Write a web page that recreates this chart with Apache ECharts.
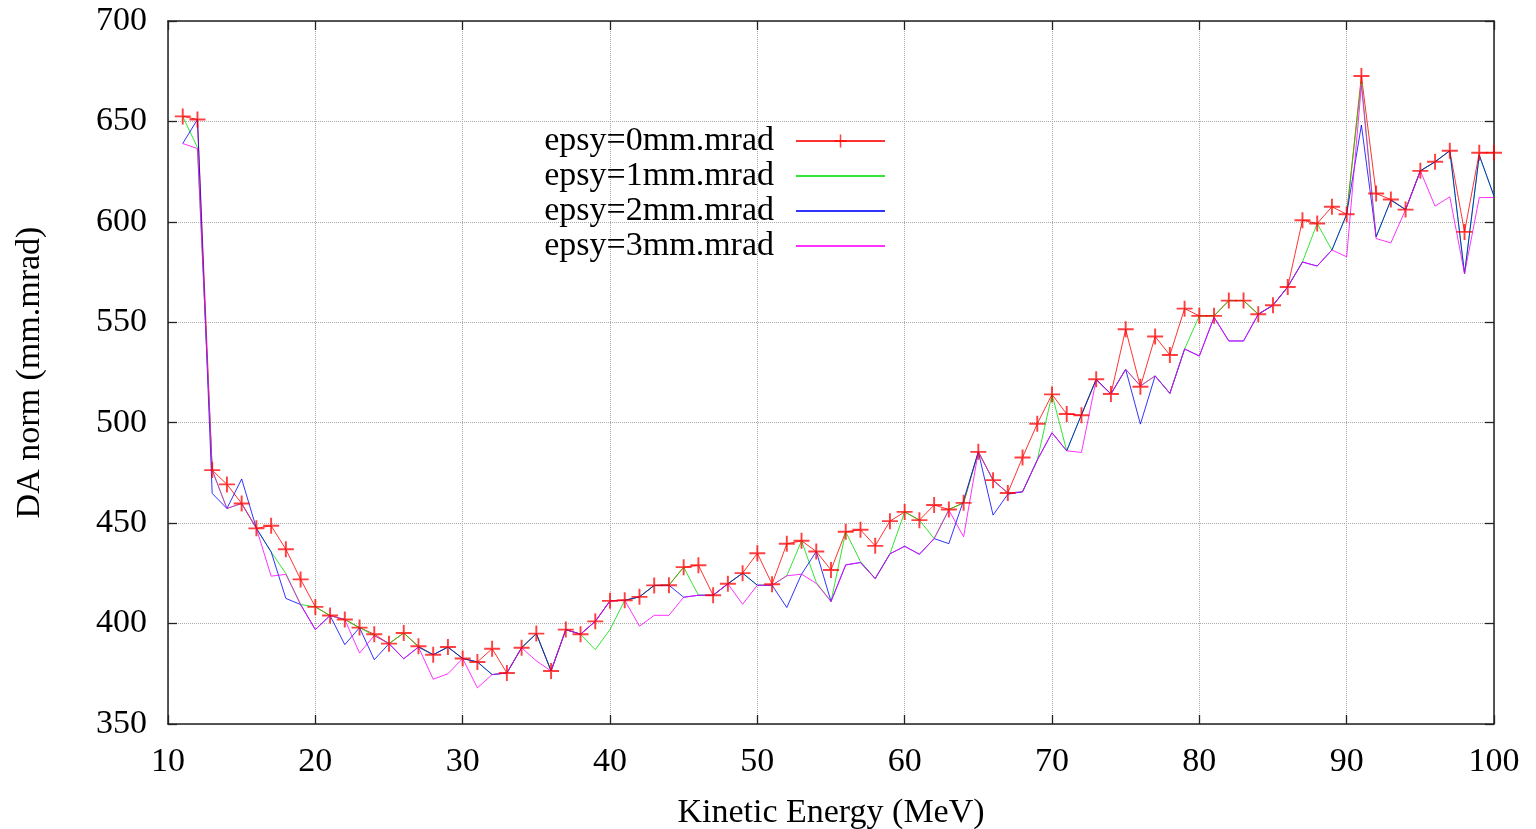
<!DOCTYPE html>
<html>
<head>
<meta charset="utf-8">
<script src="https://cdn.jsdelivr.net/npm/echarts@6/dist/echarts.min.js"></script>
<style>
html,body{margin:0;padding:0;background:#fff;}
#chart{width:1536px;height:829px;}
</style>
</head>
<body>
<div id="chart"></div>
<script>
const energy = [11,12,13,14,15,16,17,18,19,20,21,22,23,24,25,26,27,28,29,30,31,32,33,34,35,36,37,38,39,40,41,42,43,44,45,46,47,48,49,50,51,52,53,54,55,56,57,58,59,60,61,62,63,64,65,66,67,68,69,70,71,72,73,74,75,76,77,78,79,80,81,82,83,84,85,86,87,88,89,90,91,92,93,94,95,96,97,98,99,100];

const epsy0 = [652.5,651,476.4,469.3,459.8,447.4,448.7,437,422,408.3,404,402,398,394.7,390,395.3,388.7,384.5,388.3,382.6,380.9,387.5,375.4,388,395,376.4,397,394.7,401.1,411.3,411.6,413.3,419,419.1,428.1,429,414.1,419.8,425.1,435,419.6,439.7,441.2,435.9,426.7,445.7,446.7,438.7,451,455.6,451.5,459,456.8,460.1,485.5,471.4,465,482.7,499.5,514.1,504.3,503.7,521.6,514.3,546.5,517.9,542.9,533.7,556.8,553.2,553.2,560.8,560.8,554,558.5,567.6,600.8,599.2,607.5,603.8,672.6,614.1,611.1,606.1,625.4,629.9,635.4,595,634.4,634.4];

const epsy1 = [652.5,637,476.4,457.3,459.8,447.4,435.7,424.9,409.5,408.3,404,402,398,394,390,395.3,388.3,384.5,388.3,382.6,380.9,374.6,375.4,388,395,376.4,397,394.7,387,397,411.6,413.3,419,419.1,428.1,414.1,414.1,419.8,425.1,419.1,419.1,423.8,441.2,420.5,411,445.7,430.9,422.4,434.7,455.6,451.5,442.3,456.8,460.1,485.5,471.4,465,465.6,481.4,514.1,486,504,521.6,514.3,526.6,518.3,523.3,514.6,536.7,553.2,553.2,560.8,560.8,554,558.5,567.6,580,599.2,585.9,603.8,670,592.5,610.8,606.1,625.4,629.9,635.4,574.2,633.2,612.8];

const epsy2 = [639,651,464.8,457.3,472,447.4,435.7,412.5,409.5,397,404,389.5,398,382,390,382.5,388.3,384.5,388.3,382.6,380.9,374.6,375.4,388,395,376.4,397,394.7,401.1,411.3,411.6,413.3,419,419.1,413.1,414.1,414.1,419.8,425.1,419.1,419.1,408,424.6,435.9,411,429.2,430.4,422.4,434.7,438.5,434.5,442.3,439.8,461.4,485.5,454,464.4,465.6,481.4,495,486,504,521.6,514.3,526.6,499.3,523.3,514.6,536.7,533.2,552.5,540.7,540.7,554,558.5,567.6,580,578,586,603.8,648.2,592.5,610.8,606.1,625.4,629.9,635.4,574.2,633.2,612.8];

const epsy3 = [639,636.5,476.4,457.3,459.8,447.4,423.6,424.5,409.5,397,404,402,385.3,394,390,382.5,388.3,372.3,375,382.6,368,374.6,375.4,388,381.4,376.4,397,394.7,401.1,411.3,411.6,398.7,404.1,404.1,413.1,414.1,414.1,419.8,409.6,419.1,419.1,423.8,424.6,420,411,429.2,430.4,422.4,434.7,438.5,434.5,442.3,456.5,443.2,485.5,471.4,465,465.6,481.4,495,486,485.2,521.3,514.3,526.6,518.3,523.3,514.6,536.7,533.2,552.5,540.7,540.7,554,558.5,567.6,580,578,586,582.6,668,591.7,589.5,606.1,625.4,607.8,612.5,574.2,612.1,612.1];

const seriesNames = ['epsy=0mm.mrad','epsy=1mm.mrad','epsy=2mm.mrad','epsy=3mm.mrad'];
const seriesColors = ['#ff0000','#00e000','#0000ff','#ff00ff'];
const seriesValues = [epsy0, epsy1, epsy2, epsy3];

const FONT = 'Liberation Serif';
const FS = 34;
const plusPath = 'path://M0,4.4H10V5.6H0ZM4.4,0H5.6V10H4.4Z';

const chart = echarts.init(document.getElementById('chart'));

function pairs(vals){ return energy.map((e,i)=>[e, vals[i]]); }

const series = seriesValues.map((vals, k) => ({
  name: seriesNames[k],
  type: 'line',
  data: pairs(vals),
  xAxisIndex: 0,
  yAxisIndex: 0,
  symbol: k === 0 ? plusPath : 'none',
  symbolSize: 16,
  showSymbol: k === 0,
  showAllSymbol: true,
  itemStyle: { color: seriesColors[k], opacity: k === 0 ? 0.75 : 1 },
  lineStyle: { color: seriesColors[k], width: 1, opacity: 0.8 },
  emphasis: { disabled: true },
  animation: false
}));

const legendData = seriesNames.map((n, k) => (
  k === 0 ? { name: n } : { name: n, itemStyle: { opacity: 0 } }
));

const tickStyle = { show: true, inside: true, length: 9, lineStyle: { color: '#222', width: 1.3 } };
const axisLineStyle = { show: true, lineStyle: { color: '#222', width: 1.5 } };

chart.setOption({
  backgroundColor: '#ffffff',
  animation: false,
  grid: { left: 168, right: 42, top: 21, bottom: 105, show: false, containLabel: false, outerBoundsMode: 'none' },
  legend: {
    orient: 'vertical',
    right: 645,
    top: 119,
    align: 'right',
    itemWidth: 89,
    itemHeight: 16,
    itemGap: 1,
    data: legendData,
    textStyle: { fontFamily: FONT, fontSize: FS, color: '#000', padding: [0, 17, 0, 0] },
    selectedMode: false
  },
  xAxis: [
    {
      type: 'value', min: 10, max: 100, interval: 10, position: 'bottom',
      name: 'Kinetic Energy (MeV)', nameLocation: 'middle', nameGap: 72,
      nameTextStyle: { fontFamily: FONT, fontSize: FS, color: '#000' },
      axisLine: axisLineStyle, axisTick: tickStyle,
      axisLabel: { fontFamily: FONT, fontSize: FS, color: '#000', margin: 21 },
      splitLine: { show: true, lineStyle: { type: 'dotted', color: '#aaaaaa', width: 1 } }
    },
    {
      type: 'value', min: 10, max: 100, interval: 10, position: 'top',
      axisLine: axisLineStyle, axisTick: tickStyle,
      axisLabel: { show: false }, splitLine: { show: false }
    }
  ],
  yAxis: [
    {
      type: 'value', min: 350, max: 700, interval: 50, position: 'left',
      name: 'DA norm (mm.mrad)', nameLocation: 'middle', nameGap: 121,
      nameTextStyle: { fontFamily: FONT, fontSize: FS, color: '#000' },
      axisLine: axisLineStyle, axisTick: tickStyle,
      axisLabel: { fontFamily: FONT, fontSize: FS, color: '#000', margin: 21 },
      splitLine: { show: true, lineStyle: { type: 'dotted', color: '#aaaaaa', width: 1 } }
    },
    {
      type: 'value', min: 350, max: 700, interval: 50, position: 'right',
      axisLine: axisLineStyle, axisTick: tickStyle,
      axisLabel: { show: false }, splitLine: { show: false }
    }
  ],
  series: series
});
</script>
</body>
</html>
